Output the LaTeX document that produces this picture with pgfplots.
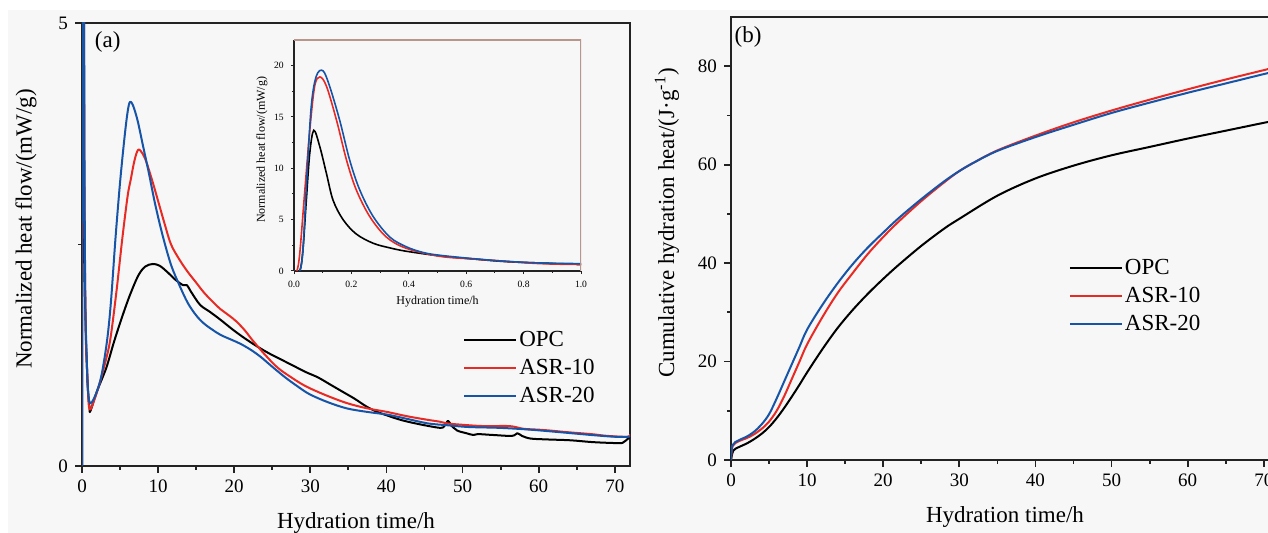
\documentclass[border=0pt]{standalone}
\usepackage{fontspec}
\setmainfont{Liberation Serif}
\usepackage{pgfplots}
\usepackage{pgfplotstable}
\pgfplotsset{compat=1.18}

\definecolor{cred}{RGB}{232,42,36}
\definecolor{cblue}{RGB}{22,84,168}
\definecolor{frame}{RGB}{35,35,35}
\definecolor{insetframe}{RGB}{185,150,140}
\definecolor{bg}{RGB}{247,247,247}

% (a) heat flow, mW/g -- first hour, rest from the main panel
\pgfplotstableread{
t q
0 0
0.02 0
0.031 2.0
0.043 6.9
0.055 11.5
0.069 13.7
0.09 12.1
0.113 9.5
0.136 6.9
0.171 5.0
0.217 3.6
0.276 2.7
0.334 2.25
0.392 1.92
0.508 1.47
0.624 1.17
0.74 0.91
0.857 0.78
1.0 0.65
1.1 0.62
2.0 0.85
3.2 1.11
4.2 1.40
5.3 1.69
6.3 1.93
7.4 2.15
8.3 2.25
9.3 2.28
10.2 2.26
11.2 2.19
12.3 2.10
13.3 2.04
13.8 2.04
14.3 1.97
15.5 1.82
16.8 1.74
18.2 1.65
19.8 1.54
21.4 1.44
23.0 1.35
24.6 1.27
26.2 1.20
27.8 1.13
29.4 1.06
31.0 1.00
32.6 0.92
34.2 0.84
35.8 0.76
37.4 0.67
38.8 0.61
40.1 0.57
41.5 0.53
42.8 0.50
45.0 0.46
47.1 0.43
47.6 0.45
48.1 0.51
48.5 0.46
49.3 0.40
50.5 0.37
51.4 0.35
52.0 0.36
54.0 0.35
56.5 0.34
57.2 0.37
57.8 0.34
58.9 0.31
61.0 0.30
64.2 0.29
67.0 0.27
69.6 0.26
71.0 0.26
71.5 0.29
72.0 0.33
}\opcA

\pgfplotstableread{
t q
0 0
0.01 0
0.02 1.7
0.037 7.6
0.055 13.7
0.072 18.0
0.09 18.9
0.113 18.0
0.148 14.7
0.183 10.8
0.217 7.9
0.264 5.3
0.322 3.3
0.392 2.2
0.508 1.43
0.624 1.17
0.74 0.94
0.857 0.72
1.0 0.64
1.3 0.67
2.2 0.90
3.0 1.15
3.7 1.42
4.5 1.95
5.3 2.57
6.0 3.05
6.4 3.23
6.9 3.45
7.4 3.57
8.0 3.52
8.5 3.42
9.3 3.20
10.1 2.96
10.9 2.72
11.7 2.50
12.8 2.33
13.9 2.19
15.0 2.07
16.0 1.96
17.1 1.86
18.2 1.77
19.3 1.70
20.3 1.63
21.4 1.53
22.4 1.42
24.0 1.26
25.7 1.11
27.5 1.00
29.4 0.90
32.0 0.80
34.8 0.71
37.5 0.65
40.1 0.61
42.8 0.56
45.5 0.52
47.0 0.50
48.0 0.48
50.8 0.46
53.0 0.45
56.2 0.45
58.0 0.42
60.0 0.41
61.5 0.40
64.0 0.38
66.9 0.36
69.0 0.34
71.7 0.33
72.0 0.36
}\asrtenA

\pgfplotstableread{
t q
0 0
0.02 0
0.031 2.0
0.043 8.2
0.06 16.0
0.078 19.0
0.101 19.5
0.124 18.0
0.159 14.7
0.194 10.8
0.229 7.9
0.276 5.3
0.334 3.3
0.392 2.35
0.45 1.8
0.508 1.53
0.624 1.2
0.741 0.94
0.857 0.78
1.0 0.72
1.3 0.72
2.0 0.85
2.6 1.04
3.3 1.42
3.8 1.85
4.4 2.57
5.0 3.20
5.6 3.72
6.0 4.00
6.3 4.11
6.7 4.07
7.3 3.90
8.0 3.62
8.8 3.30
9.6 2.96
10.6 2.60
11.7 2.27
12.8 2.04
13.9 1.84
15.0 1.70
16.0 1.61
17.1 1.54
18.2 1.48
19.5 1.43
20.8 1.38
22.2 1.31
23.5 1.23
25.0 1.12
26.7 1.00
28.3 0.90
29.9 0.81
32.3 0.72
34.8 0.65
37.5 0.61
40.1 0.58
42.8 0.53
45.5 0.48
48.0 0.46
50.8 0.44
55.0 0.43
58.9 0.41
63.0 0.38
66.9 0.35
70.0 0.33
71.7 0.33
72.0 0.34
}\asrtwentyA

% (b) cumulative heat, J/g
\pgfplotstableread{
t q
0 0
0.3 1.9
1 2.6
2 3.3
3 4.2
4 5.3
5 6.7
6 8.5
7 10.6
8 12.9
9 15.3
10 17.8
12 22.5
14 26.8
16 30.5
18 33.8
20 36.8
22 39.6
25 43.5
28 47.0
30 49.0
35 53.7
40 57.2
45 59.8
50 61.9
55 63.6
60 65.3
65 66.9
70 68.5
72 69.1
}\opcB

\pgfplotstableread{
t q
0 0
0.2 2.8
1 3.8
2 4.4
3 5.2
4 6.3
5 7.8
6 10.0
7 13.0
8 16.5
9 20.0
10 23.5
12 29.0
14 33.9
16 38.0
18 41.9
20 45.3
22 48.4
25 52.6
28 56.4
30 58.7
32 60.5
35 62.9
40 65.9
45 68.6
50 71.0
55 73.2
60 75.3
65 77.3
70 79.2
72 80.0
}\asrtenB

\pgfplotstableread{
t q
0 0
0.2 3.0
1 4.0
2 4.7
3 5.7
4 7.2
5 9.3
6 12.5
7 16.0
8 19.5
9 23.0
10 26.5
12 31.5
14 35.9
16 39.8
18 43.2
20 46.2
22 49.1
25 53.0
28 56.6
30 58.7
32 60.5
35 62.8
40 65.6
45 68.1
50 70.5
55 72.6
60 74.6
65 76.5
70 78.4
72 79.1
}\asrtwentyB

\pgfplotsset{
  panel/.style={
    scale only axis, width=274pt, height=221.5pt,
    xmin=0, xmax=72,
    xtick={0,10,...,70}, minor xtick={5,15,...,65},
    tick pos=left, tick align=outside,
    major tick length=3.5pt, minor tick length=2pt,
    axis line style={line width=0.9pt, color=frame},
    tick style={line width=0.9pt, color=frame},
    tick label style={font=\fontsize{9.5}{11}\selectfont},
    label style={font=\fontsize{11.5}{13}\selectfont},
    /pgf/number format/assume math mode=true,
    xlabel={Hydration time/h},
    xlabel style={at={(axis description cs:0.5,0)}, anchor=center, yshift=-28.5pt},
    legend style={draw=none, fill=none, font=\fontsize{11.5}{13}\selectfont,
      anchor=north west, inner sep=0pt, row sep=2pt,
      nodes={inner sep=1pt, text height=8pt, text depth=2pt}},
    legend cell align=left,
    legend image code/.code={\draw[##1] (0pt,0pt) -- (26pt,0pt);},
  },
  curve/.style={line width=1pt, line join=round, smooth, tension=0.55},
}

\begin{document}
\begin{tikzpicture}
\fill[bg] (4pt,0) rectangle (634pt,261.5pt);

% ---- (a) heat flow ----
\begin{axis}[panel, at={(41pt,33.5pt)}, anchor=south west,
  ymin=0, ymax=5, ytick={0,5}, minor ytick={2.5},
  ylabel={Normalized heat flow/(mW/g)},
  ylabel style={at={(axis description cs:-0.102,0.535)}, anchor=center},
  legend style={at={(axis description cs:0.695,0.3115)}},
]
\addplot[curve, black] table[x=t, y=q] {\opcA};
\addlegendentry{OPC}
\addplot[curve, cred] table[x=t, y=q] {\asrtenA};
\addlegendentry{ASR-10}
\addplot[curve, cblue] table[x=t, y=q] {\asrtwentyA};
\addlegendentry{ASR-20}
\node[font=\fontsize{11.5}{13}\selectfont] at (axis description cs:0.047,0.957) {(a)};
\end{axis}

% ---- inset: first hour ----
\begin{axis}[scale only axis, width=143.5pt, height=115.5pt,
  at={(147pt,131pt)}, anchor=south west,
  xmin=0, xmax=1, ymin=0, ymax=22.5,
  xtick={0,0.2,...,1.0}, minor xtick={0.1,0.3,...,0.9},
  ytick={0,5,...,20}, minor ytick={2.5,7.5,...,17.5},
  axis x line*=bottom, axis y line*=left,
  tick align=outside, major tick length=1.6pt, minor tick length=1pt,
  axis line style={line width=0.6pt, color=frame, -},
  tick style={line width=0.5pt, color=frame},
  xticklabel style={/pgf/number format/.cd, fixed, fixed zerofill, precision=1},
  tick label style={font=\fontsize{4.8}{5.5}\selectfont},
  /pgf/number format/assume math mode=true,
  label style={font=\fontsize{6}{7}\selectfont},
  xlabel={Hydration time/h},
  xlabel style={at={(axis description cs:0.5,0)}, anchor=center, yshift=-15.5pt},
  ylabel={Normalized heat flow/(mW/g)},
  ylabel style={at={(axis description cs:-0.1115,0.524)}, anchor=center},
]
\addplot[line width=0.8pt, black, smooth, tension=0.55] table[x=t, y=q] {\opcA};
\addplot[line width=0.8pt, cred, smooth, tension=0.55] table[x=t, y=q] {\asrtenA};
\addplot[line width=0.8pt, cblue, smooth, tension=0.55] table[x=t, y=q] {\asrtwentyA};
\draw[insetframe, line width=0.6pt] (rel axis cs:0,1) -- (rel axis cs:1,1) -- (rel axis cs:1,0);
\end{axis}

% ---- (b) cumulative heat ----
\begin{axis}[panel, at={(365.5pt,36.5pt)}, anchor=south west,
  ymin=0, ymax=90, ytick={0,20,...,80}, minor ytick={10,30,...,70},
  ylabel={Cumulative hydration heat/(J·g\textsuperscript{-1})},
  ylabel style={at={(axis description cs:-0.117,0.535)}, anchor=center},
  legend style={at={(axis description cs:0.616,0.4605)}},
]
\addplot[curve, black] table[x=t, y=q] {\opcB};
\addlegendentry{OPC}
\addplot[curve, cred] table[x=t, y=q] {\asrtenB};
\addlegendentry{ASR-10}
\addplot[curve, cblue] table[x=t, y=q] {\asrtwentyB};
\addlegendentry{ASR-20}
\node[font=\fontsize{11.5}{13}\selectfont] at (axis description cs:0.031,0.955) {(b)};
\end{axis}

\pgfresetboundingbox
\useasboundingbox (0,0) rectangle (634pt,266.5pt);
\end{tikzpicture}
\end{document}
